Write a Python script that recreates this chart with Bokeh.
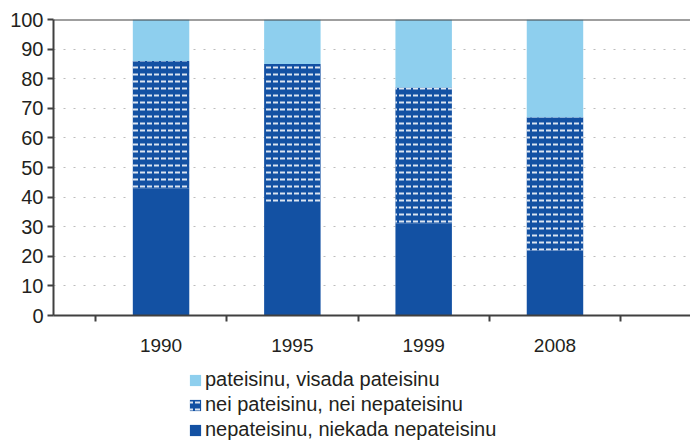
from bokeh.plotting import figure
from bokeh.layouts import column
from bokeh.models import (ColumnDataSource, FixedTicker, Range1d, Span, Legend, LegendItem)
from bokeh.embed import file_html
from bokeh.resources import INLINE

# ---- data ----
years = ["1990", "1995", "1999", "2008"]
never = [43, 38, 31, 22]      # nepateisinu, niekada nepateisinu
neither = [43, 47, 46, 45]    # nei pateisinu, nei nepateisinu
always = [14, 15, 23, 33]     # pateisinu, visada pateisinu
labels = ["pateisinu, visada pateisinu",
          "nei pateisinu, nei nepateisinu",
          "nepateisinu, niekada nepateisinu"]
y_ticks = list(range(0, 101, 10))

pos = [i + 1 for i in range(len(years))]
source = ColumnDataSource(dict(x=pos, never=never, neither=neither, always=always))

DARK = "#1351a3"
LIGHT = "#8ecfee"
TXT = "#231f20"
AX = "#404040"
FONT = "Liberation Sans"
STACK = ["never", "neither", "always"]
COLORS = [DARK, DARK, LIGHT]


def style_hatch(glyph):
    glyph.hatch_pattern = "horizontal_dash"
    glyph.hatch_color = "white"
    glyph.hatch_scale = 7
    glyph.hatch_weight = 2
    glyph.hatch_alpha = 0.85


p = figure(width=690, height=362, output_backend="svg", toolbar_location=None,
           x_range=Range1d(0.181, 5.032), y_range=Range1d(0, 100),
           min_border_left=53, min_border_top=19, min_border_right=0,
           min_border_bottom=47)
p.outline_line_color = None
p.background_fill_color = "white"
p.border_fill_color = "white"

rs = p.vbar_stack(STACK, x="x", width=0.43, color=COLORS, source=source, line_color=None)
style_hatch(rs[1].glyph)

# top border line
p.add_layout(Span(location=100, dimension="width", line_color=AX, line_width=2))

# y axis
ya = p.yaxis[0]
ya.ticker = FixedTicker(ticks=y_ticks)
ya.major_tick_out = 6
ya.major_tick_in = 0
ya.minor_tick_line_color = None
ya.axis_line_color = AX
ya.axis_line_width = 2
ya.major_tick_line_color = AX
ya.major_tick_line_width = 2
ya.major_label_text_font = FONT
ya.major_label_text_font_size = "20px"
ya.major_label_text_color = TXT
ya.major_label_standoff = 4

# x axis
xa = p.xaxis[0]
xa.ticker = FixedTicker(ticks=pos, minor_ticks=[x - 0.5 for x in pos] + [pos[-1] + 0.5])
xa.major_label_overrides = {x: y for x, y in zip(pos, years)}
xa.major_tick_line_color = None
xa.major_tick_out = 6
xa.major_tick_in = 0
xa.minor_tick_out = 6
xa.minor_tick_in = 0
xa.minor_tick_line_color = AX
xa.minor_tick_line_width = 2
xa.axis_line_color = AX
xa.axis_line_width = 2
xa.major_label_text_font = FONT
xa.major_label_text_font_size = "19px"
xa.major_label_text_color = TXT
xa.major_label_standoff = 17

# grid
p.xgrid.grid_line_color = None
p.ygrid.ticker = FixedTicker(ticks=y_ticks[1:-1])
p.ygrid.grid_line_color = "#bdbdbd"
p.ygrid.grid_line_dash = "2 8"
p.ygrid.grid_line_width = 1

# ---- legend strip below the chart (its bars lie outside its visible range) ----
p2 = figure(width=690, height=79, output_backend="svg", toolbar_location=None,
            x_range=Range1d(0.181, 5.032), y_range=Range1d(200, 300),
            x_axis_location=None, y_axis_location=None,
            min_border_left=0, min_border_right=0, min_border_top=0, min_border_bottom=0)
p2.outline_line_color = None
p2.xgrid.grid_line_color = None
p2.ygrid.grid_line_color = None
rs2 = p2.vbar_stack(STACK, x="x", width=0.43, color=COLORS, source=source, line_color=None)
style_hatch(rs2[1].glyph)

legend = Legend(items=[LegendItem(label=labels[0], renderers=[rs2[2]]),
                       LegendItem(label=labels[1], renderers=[rs2[1]]),
                       LegendItem(label=labels[2], renderers=[rs2[0]])],
                location=(135, 0))
legend.label_text_font = FONT
legend.label_text_font_size = "20px"
legend.label_text_color = TXT
legend.glyph_width = 14
legend.glyph_height = 14
legend.label_height = 23
legend.label_standoff = 3
legend.spacing = 2
legend.padding = 0
legend.margin = 0
legend.border_line_color = None
legend.background_fill_alpha = 0
p2.add_layout(legend)

layout = column(p, p2, spacing=0)
open("out.html", "w").write(file_html(layout, INLINE))
